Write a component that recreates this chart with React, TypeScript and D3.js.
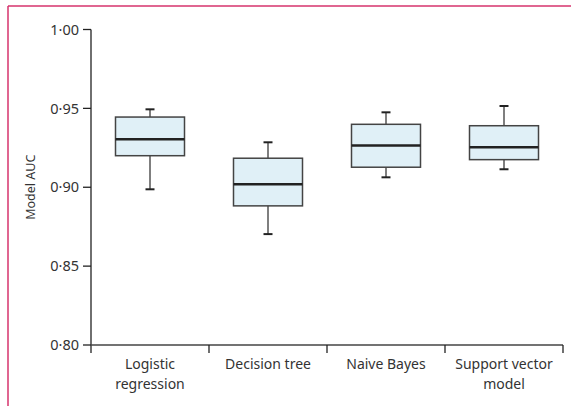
import React from "react";
import * as d3 from "d3";

const categories = [["Logistic", "regression"], ["Decision tree"], ["Naive Bayes"], ["Support vector", "model"]];
const whiskerLow = [0.8987, 0.8703, 0.9063, 0.9114];
const q1 = [0.92, 0.8882, 0.9127, 0.9175];
const median = [0.9304, 0.9019, 0.9264, 0.9253];
const q3 = [0.9445, 0.9184, 0.9399, 0.939];
const whiskerHigh = [0.9494, 0.9285, 0.9475, 0.9515];
const yTicks = [0.8, 0.85, 0.9, 0.95, 1.0];

const W = 571;
const H = 406;
const font = "'Noto Sans', 'Open Sans', sans-serif";

export default function App() {
  const x = d3.scaleBand<number>().domain(d3.range(categories.length)).range([91, 563]);
  const y = d3.scaleLinear().domain([0.8, 1.0]).range([345, 29.5]);
  const boxW = 69;
  const capW = 9;
  const fmt = (v: number) => v.toFixed(2).replace(".", "·");

  return (
    <svg width={W} height={H} style={{ position: "absolute", left: 0, top: 0 }}>
      <rect x={0} y={0} width={W} height={H} fill="#fff" />
      {/* frame */}
      <line x1={8} x2={W} y1={6} y2={6} stroke="#d6336c" strokeWidth={1.5} />
      <line x1={8} x2={8} y1={6} y2={H} stroke="#d6336c" strokeWidth={1.5} />

      {/* y axis */}
      <line x1={91} x2={91} y1={y(1.0)} y2={353} stroke="#222" strokeWidth={1.3} />
      {yTicks.map((t) => (
        <g key={t}>
          <line x1={83} x2={91} y1={y(t)} y2={y(t)} stroke="#222" strokeWidth={1.3} />
          <text x={79} y={y(t)} dy="0.36em" textAnchor="end" fontFamily={font} fontSize={14.5} fill="#333">
            {fmt(t)}
          </text>
        </g>
      ))}
      <text
        transform={`translate(35,${y(0.9)}) rotate(-90)`}
        textAnchor="middle"
        fontFamily={font}
        fontSize={12.5}
        fill="#333"
      >
        Model AUC
      </text>

      {/* x axis */}
      <line x1={91} x2={563} y1={y(0.8)} y2={y(0.8)} stroke="#444" strokeWidth={1.3} />
      {categories.map((_, i) => (
        <line key={i} x1={x(i)! + x.bandwidth()} x2={x(i)! + x.bandwidth()} y1={y(0.8)} y2={353} stroke="#222" strokeWidth={1.3} />
      ))}
      {categories.map((lines, i) => (
        <text key={i} x={x(i)! + x.bandwidth() / 2} y={369} textAnchor="middle" fontFamily={font} fontSize={14} fill="#333">
          {lines.map((l, j) => (
            <tspan key={j} x={x(i)! + x.bandwidth() / 2} dy={j === 0 ? 0 : 20}>
              {l}
            </tspan>
          ))}
        </text>
      ))}

      {/* boxes */}
      {categories.map((_, i) => {
        const cx = x(i)! + x.bandwidth() / 2;
        return (
          <g key={i}>
            <line x1={cx} x2={cx} y1={y(whiskerHigh[i])} y2={y(q3[i])} stroke="#555" strokeWidth={1.5} />
            <line x1={cx} x2={cx} y1={y(q1[i])} y2={y(whiskerLow[i])} stroke="#555" strokeWidth={1.5} />
            <line x1={cx - capW / 2} x2={cx + capW / 2} y1={y(whiskerHigh[i])} y2={y(whiskerHigh[i])} stroke="#222" strokeWidth={2} />
            <line x1={cx - capW / 2} x2={cx + capW / 2} y1={y(whiskerLow[i])} y2={y(whiskerLow[i])} stroke="#222" strokeWidth={2} />
            <rect
              x={cx - boxW / 2}
              y={y(q3[i])}
              width={boxW}
              height={y(q1[i]) - y(q3[i])}
              fill="#e0f0f7"
              stroke="#444"
              strokeWidth={1.5}
            />
            <line x1={cx - boxW / 2} x2={cx + boxW / 2} y1={y(median[i])} y2={y(median[i])} stroke="#222" strokeWidth={2.5} />
          </g>
        );
      })}
    </svg>
  );
}
